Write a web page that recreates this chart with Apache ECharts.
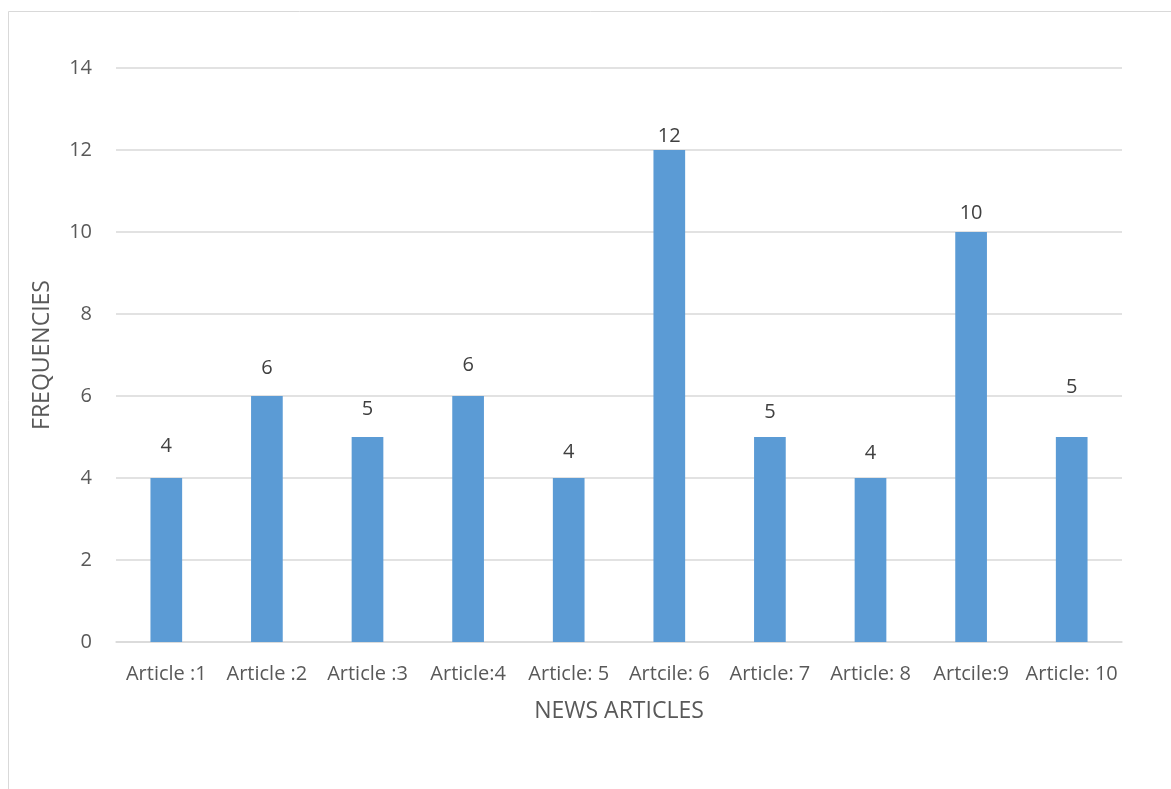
<!DOCTYPE html>
<html>
<head>
<meta charset="utf-8">
<script src="https://cdn.jsdelivr.net/npm/echarts@6/dist/echarts.min.js"></script>
<style>
  html, body { margin: 0; padding: 0; background: #fff; }
  #chart { width: 1171px; height: 789px; }
</style>
</head>
<body>
<div id="chart"></div>
<script>
const categories = ['Article :1', 'Article :2', 'Article :3', 'Article:4', 'Article: 5',
                    'Artcile: 6', 'Article: 7', 'Article: 8', 'Artcile:9', 'Article: 10'];
const frequencies = [4, 6, 5, 6, 4, 12, 5, 4, 10, 5];
const yTicks = { min: 0, max: 14, interval: 2 };

// hand-placed value labels: lift of each label's centre above its bar (px)
const labelLift = [32, 28, 28, 31, 26, 13.5, 24.5, 25, 19, 49.5];

const FONT = '"Open Sans", "Liberation Sans", sans-serif';
const LABEL_SIZE = 20;
const chart = echarts.init(document.getElementById('chart'), null, { renderer: 'canvas' });

chart.setOption({
  backgroundColor: '#ffffff',
  animation: false,
  graphic: [{
    type: 'rect',
    shape: { x: 8.5, y: 11.5, width: 1180, height: 800 },
    style: { fill: 'none', stroke: '#d9d9d9', lineWidth: 1 },
    silent: true
  }],
  grid: { left: 116, right: 49, top: 68, bottom: 147, containLabel: false },
  xAxis: {
    type: 'category',
    data: categories,
    name: 'NEWS ARTICLES',
    nameLocation: 'middle',
    nameGap: 58,
    nameTextStyle: { color: '#595959', fontSize: 23, fontFamily: FONT },
    axisLine: { show: true, lineStyle: { color: '#d9d9d9', width: 1.5 } },
    axisTick: { show: false },
    axisLabel: { color: '#595959', fontSize: 20, fontFamily: FONT, margin: 22, interval: 0 }
  },
  yAxis: {
    type: 'value',
    min: yTicks.min,
    max: yTicks.max,
    interval: yTicks.interval,
    name: 'FREQUENCIES',
    nameLocation: 'middle',
    nameGap: 62,
    nameRotate: 90,
    nameTextStyle: { color: '#595959', fontSize: 23, fontFamily: FONT },
    axisLine: { show: false },
    axisTick: { show: false },
    axisLabel: { color: '#595959', fontSize: 20, fontFamily: FONT, margin: 24 },
    splitLine: { lineStyle: { color: '#d9d9d9', width: 1.5 } }
  },
  series: [{
    type: 'bar',
    data: frequencies.map((v, i) => ({
      value: v,
      label: { distance: labelLift[i] - LABEL_SIZE / 2 }
    })),
    barWidth: '31.5%',
    itemStyle: { color: '#5b9bd5' },
    label: {
      show: true,
      position: 'top',
      color: '#404040',
      fontSize: LABEL_SIZE,
      fontFamily: FONT
    }
  }]
});
</script>
</body>
</html>
